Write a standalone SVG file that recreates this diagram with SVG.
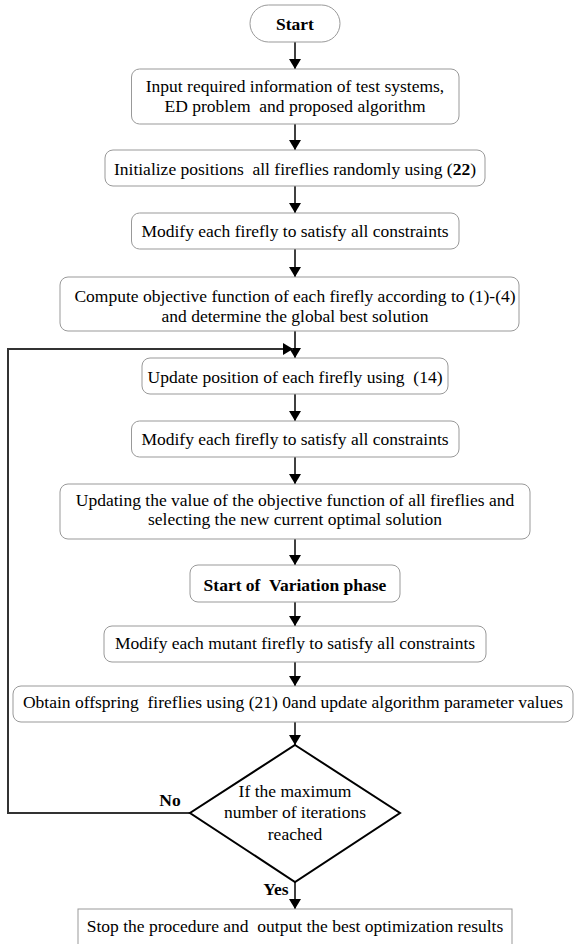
<svg xmlns="http://www.w3.org/2000/svg" width="574" height="944" viewBox="0 0 574 944">
<style>
text{font-family:"Liberation Serif","Times New Roman","DejaVu Serif",serif;font-size:17.5px;fill:#000;text-anchor:middle;white-space:pre}
.b{font-weight:bold}
.box{fill:#fff;stroke:#999;stroke-width:1}
.conn{stroke:#000;stroke-width:1.5;fill:none}
.fb{stroke:#333;stroke-width:2;fill:none}
</style>
<defs>
<marker id="ah" viewBox="0 0 10 12" refX="10" refY="6" markerWidth="10" markerHeight="12" markerUnits="userSpaceOnUse" orient="auto">
<path d="M0,0 L10,6 L0,12 Z" fill="#000"/>
</marker>
</defs>
<rect width="574" height="944" fill="#fff"/>
<g font-family="Liberation Serif, serif">
<g id="connectors">
<line class="conn" x1="295" y1="42" x2="295" y2="69" marker-end="url(#ah)"/>
<line class="conn" x1="295" y1="124" x2="295" y2="150" marker-end="url(#ah)"/>
<line class="conn" x1="295" y1="186" x2="295" y2="213" marker-end="url(#ah)"/>
<line class="conn" x1="295" y1="249" x2="295" y2="277" marker-end="url(#ah)"/>
<line class="conn" x1="295" y1="331" x2="295" y2="358" marker-end="url(#ah)"/>
<line class="conn" x1="295" y1="394" x2="295" y2="421" marker-end="url(#ah)"/>
<line class="conn" x1="295" y1="457" x2="295" y2="484" marker-end="url(#ah)"/>
<line class="conn" x1="295" y1="539" x2="295" y2="565" marker-end="url(#ah)"/>
<line class="conn" x1="295" y1="602" x2="295" y2="626" marker-end="url(#ah)"/>
<line class="conn" x1="295" y1="662" x2="295" y2="686" marker-end="url(#ah)"/>
<line class="conn" x1="295" y1="722" x2="295" y2="745" marker-end="url(#ah)"/>
<line class="conn" x1="295" y1="882" x2="295" y2="909" marker-end="url(#ah)"/>
<polyline class="fb" points="190,813 8,813 8,349 293,349" marker-end="url(#ah)"/>
<text class="b" x="170" y="806">No</text>
<text class="b" x="276" y="895">Yes</text>
</g>
<g id="start"><rect class="box" x="250" y="5" width="90" height="37" rx="18.5"/><text class="b" x="295" y="30">Start</text></g>
<g id="input"><rect class="box" x="131.5" y="69" width="327.5" height="55" rx="8"/><text x="295" y="92">Input required information of test systems,</text><text x="295" y="112">ED problem  and proposed algorithm</text></g>
<g id="init"><rect class="box" x="105" y="150" width="380" height="36" rx="8"/><text x="295" y="175">Initialize positions  all fireflies randomly using (<tspan class="b">22</tspan>)</text></g>
<g id="modify1"><rect class="box" x="131.5" y="213" width="327.5" height="36" rx="8"/><text x="295" y="237">Modify each firefly to satisfy all constraints</text></g>
<g id="compute"><rect class="box" x="60" y="277" width="459" height="54" rx="8"/><text x="295" y="302">Compute objective function of each firefly according to (1)-(4)</text><text x="295" y="322">and determine the global best solution</text></g>
<g id="update"><rect class="box" x="142" y="358" width="306" height="36" rx="8"/><text x="295" y="383">Update position of each firefly using  (14)</text></g>
<g id="modify2"><rect class="box" x="131.5" y="421" width="327.5" height="36" rx="8"/><text x="295" y="445">Modify each firefly to satisfy all constraints</text></g>
<g id="updating"><rect class="box" x="60" y="484" width="470" height="55" rx="8"/><text x="295" y="506">Updating the value of the objective function of all fireflies and</text><text x="295" y="525">selecting the new current optimal solution</text></g>
<g id="variation"><rect class="box" x="190" y="565" width="210" height="37" rx="8"/><text class="b" x="295" y="591">Start of  Variation phase</text></g>
<g id="mutant"><rect class="box" x="104" y="626" width="382" height="36" rx="8"/><text x="295" y="649">Modify each mutant firefly to satisfy all constraints</text></g>
<g id="offspring"><rect class="box" x="13" y="686" width="560" height="36" rx="8"/><text x="293" y="708">Obtain offspring  fireflies using (21) 0and update algorithm parameter values</text></g>
<g id="decision"><polygon points="295,745 400,813 295,882 190,813" fill="#fff" stroke="#000" stroke-width="2"/><text x="295" y="797">If the maximum</text><text x="295" y="818">number of iterations</text><text x="295" y="840">reached</text></g>
<g id="stop"><rect class="box" x="78" y="909" width="434" height="40"/><text x="295" y="932">Stop the procedure and  output the best optimization results</text></g>
</g>
</svg>
